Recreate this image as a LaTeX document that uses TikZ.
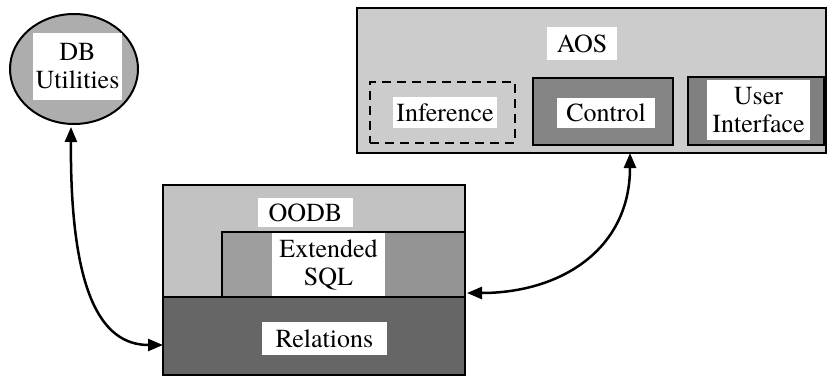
\documentclass[tikz,border=0pt]{standalone}
\usepackage{fontspec}
\setmainfont{texgyretermes}[Extension=.otf, UprightFont=*-regular, BoldFont=*-bold, ItalicFont=*-italic, BoldItalicFont=*-bolditalic]
\usetikzlibrary{shapes.geometric,arrows.meta,calc}
\definecolor{aosgray}{gray}{0.80}
\definecolor{ctrlgray}{gray}{0.52}
\definecolor{uigray}{gray}{0.50}
\definecolor{oodbgray}{gray}{0.76}
\definecolor{sqlleft}{gray}{0.62}
\definecolor{sqlright}{gray}{0.58}
\definecolor{relgray}{gray}{0.40}
\definecolor{dbgray}{gray}{0.68}
\begin{document}
\begin{tikzpicture}[x=1pt,y=-1pt,
  every node/.style={font=\fontsize{26}{28}\selectfont, inner sep=0pt, outer sep=0pt},
  labelbox/.style={fill=white, draw=none, align=center},
  frame/.style={draw=black, line width=2pt},
  conn/.style={line width=2.5pt, {Triangle[length=15pt,width=12pt]}-{Triangle[length=15pt,width=12pt]}}
]
\useasboundingbox (0,0) rectangle (827,377);

% DB Utilities
\node[ellipse, frame, fill=dbgray, minimum width=128, minimum height=110] (db) at (74,69) {};
\node[labelbox, minimum width=89, minimum height=67] (dbl) at (77.5,66.5) {DB\\Utilities};

% AOS
\node[frame, fill=aosgray, minimum width=469, minimum height=145] (aos) at (591.5,80.5) {};
\node[labelbox, minimum width=70, minimum height=33] (aosl) at (582,43.5) {AOS};
\node[draw=black, line width=2pt, dash pattern=on 9pt off 6pt, minimum width=145, minimum height=61] (inf) at (442.5,112.5) {};
\node[labelbox, minimum width=104, minimum height=31] (infl) at (445,112.5) {Inference};
\node[frame, fill=ctrlgray, minimum width=140, minimum height=67] (ctrl) at (603,111.5) {};
\node[labelbox, minimum width=98, minimum height=30] (ctrll) at (606,113) {Control};
\node[frame, fill=uigray, minimum width=136, minimum height=68] (ui) at (756,111) {};
\node[labelbox, minimum width=103, minimum height=60] (uil) at (758.5,110) {User\\Interface};

% OODB
\node[fill=oodbgray, minimum width=302, minimum height=190] (oodb) at (314,280) {};
\node[labelbox, minimum width=95, minimum height=29] (oodbl) at (305.5,212.5) {OODB};
\node[fill=sqlright, draw=black, line width=1.5pt, minimum width=243, minimum height=65] (sql) at (343.5,264.5) {};
\fill[sqlleft] ([shift={(1,1)}]sql.north west) rectangle (272,297);
\node[labelbox, minimum width=113, minimum height=63] (sqll) at (328.5,264.5) {Extended\\SQL};
\node[frame, fill=relgray, minimum width=302, minimum height=78] (rel) at (314,336) {};
\node[labelbox, minimum width=125, minimum height=33] (rell) at (324.5,338.5) {Relations};
\draw[frame] (oodb.north west) rectangle (oodb.south east);

% connectors
\draw[conn] ([xshift=-3pt,yshift=-3pt]db.south) .. controls (70,290) and (100,345) .. ($(rel.west)+(0,9)$);
\draw[conn] ($(ctrl.south)+(27,8)$) .. controls (630,250) and (560,293) .. ($(rel.north east)+(2,-4)$);
\end{tikzpicture}
\end{document}
